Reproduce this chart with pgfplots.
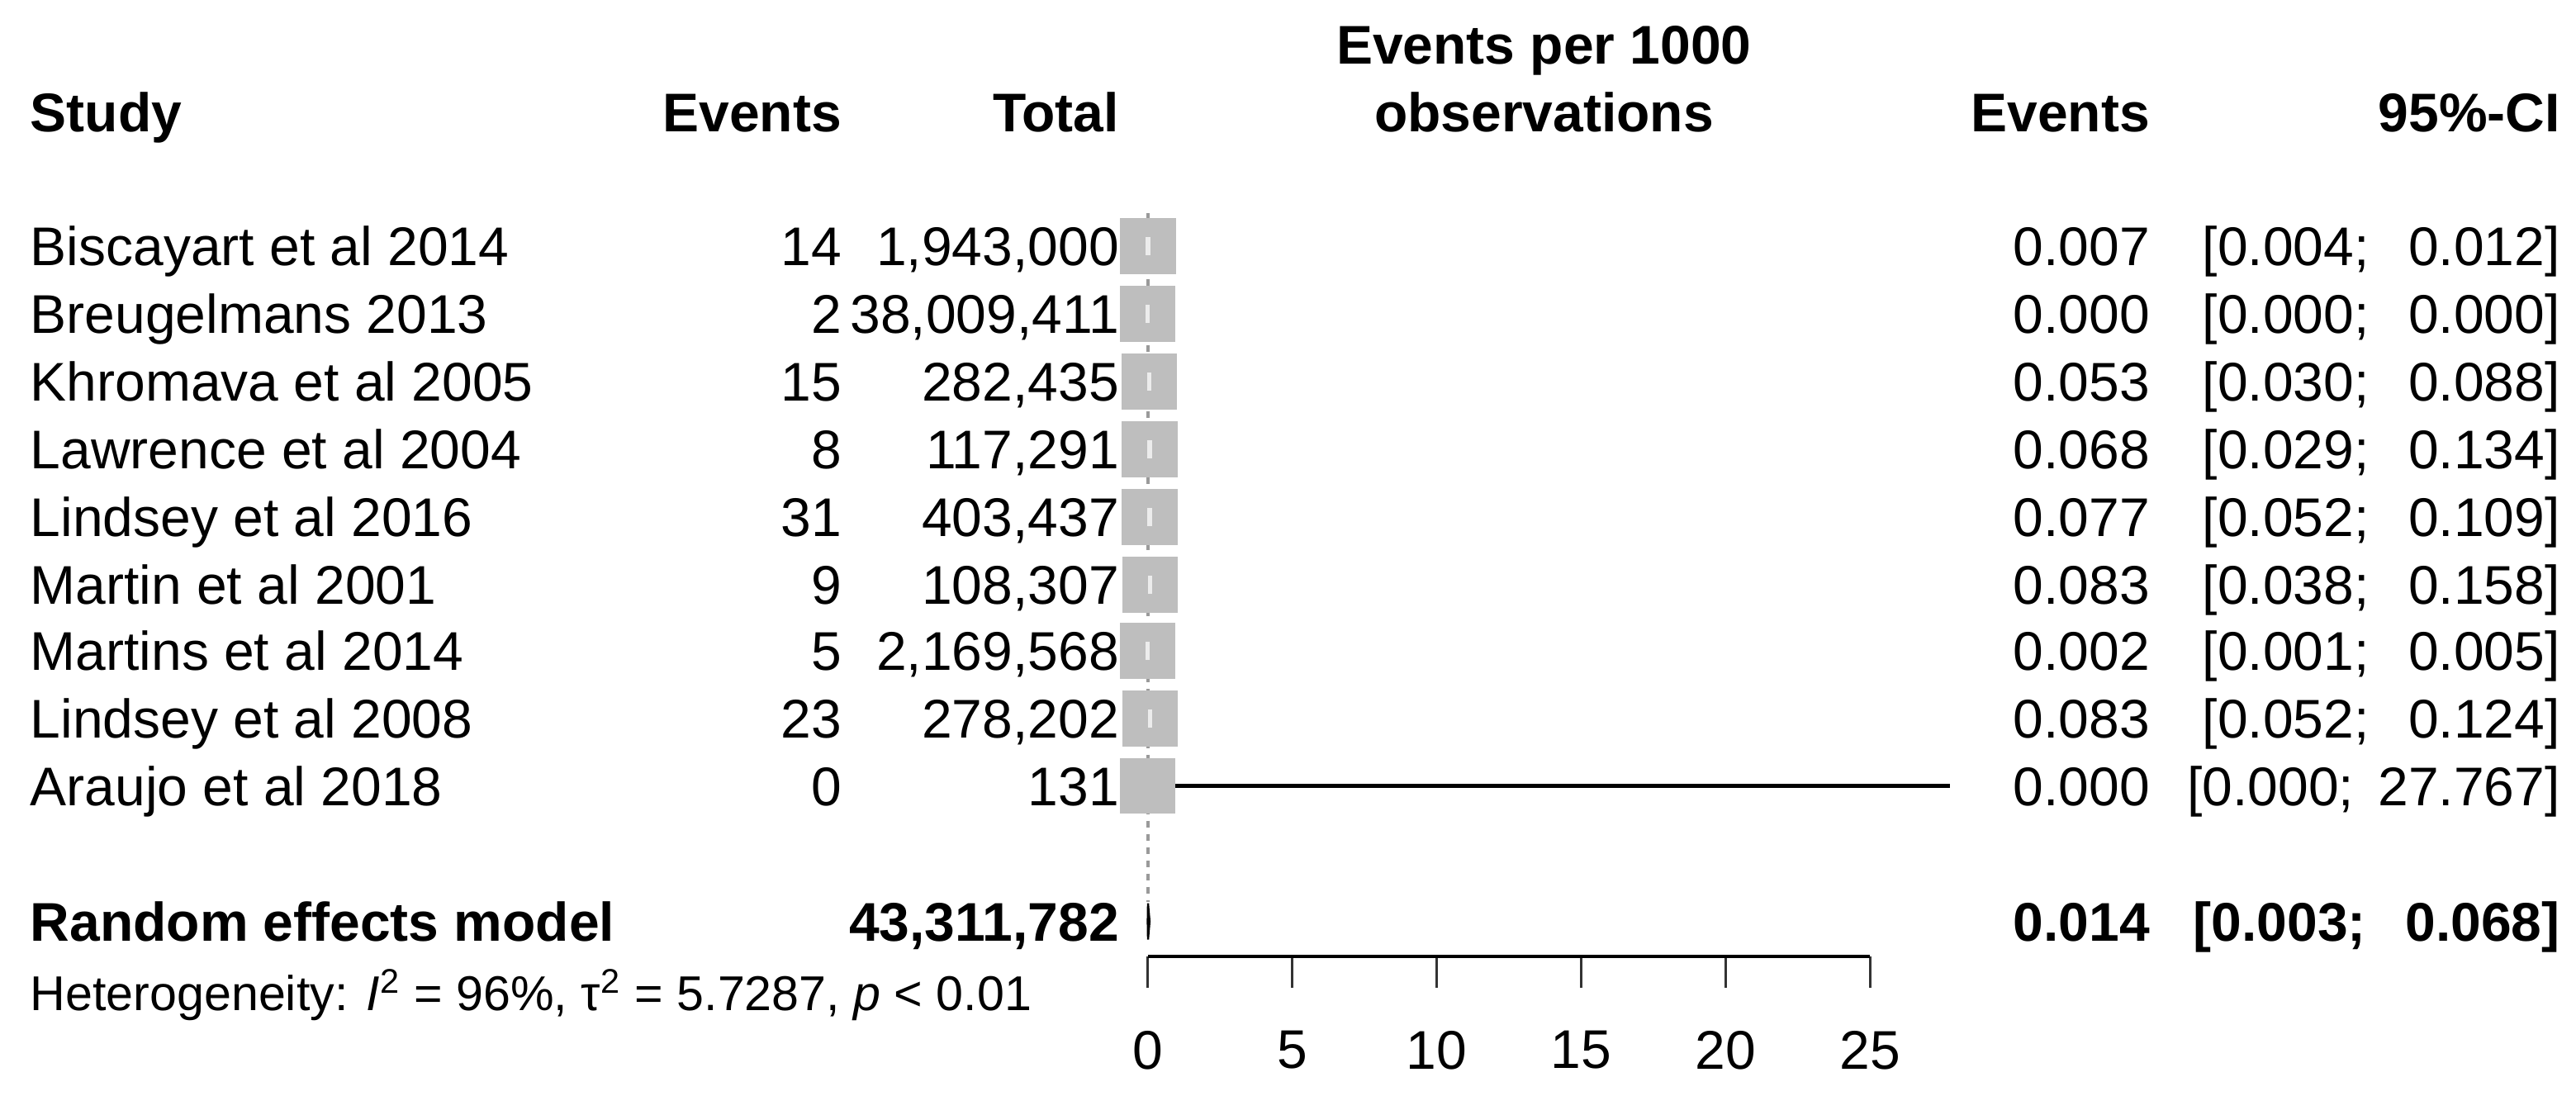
\documentclass[border=0pt]{standalone}
\usepackage{fontspec}
\setmainfont{Liberation Sans}
\usepackage{pgfplots}
\usepackage{pgfplotstable}
\pgfplotsset{compat=1.18}
\definecolor{sqgray}{HTML}{BEBEBE}
\definecolor{refgray}{HTML}{9A9A9A}
\newcommand\body{\fontsize{16.5}{19}\selectfont}
\newcommand\het{\fontsize{14.8}{18}\selectfont}

% y = row position (pixels from the top of the figure)
\pgfplotstableread{
y   est   lo    hi
149 0.007 0.004 0.012
190 0.000 0.000 0.000
231 0.053 0.030 0.088
272 0.068 0.029 0.134
313 0.077 0.052 0.109
354 0.083 0.038 0.158
394 0.002 0.001 0.005
435 0.083 0.052 0.124
476 0.000 0.000 27.767
}\studies

% one study row: baseline, name, events, total, estimate, CI
\newcommand\frow[6]{%
  \node[txt, anchor=base west] at (axis cs:-38.686,-#1) {#2};
  \node[txt, anchor=base east] at (axis cs:-10.571,-#1) {#3};
  \node[txt, anchor=base east] at (axis cs:-0.971,-#1) {#4};
  \node[txt, anchor=base east] at (axis cs:34.7,-#1) {#5};
  \node[txt, anchor=base east] at (axis cs:48.9,-#1) {#6};}

\tikzset{txt/.style={inner sep=0pt, font=\body}}

\begin{document}
\begin{tikzpicture}
\useasboundingbox (-347.5pt,-48pt) rectangle (432.5pt,289.5pt);
\begin{axis}[
  scale only axis, width=218.75pt, height=289.5pt,
  xmin=0, xmax=25, ymin=-579, ymax=0,
  axis x line=bottom, axis y line=none,
  ytick=\empty,
  clip=false,
  xtick={0,5,...,25},
  tick align=outside,
  major tick length=9.5pt,
  x axis line style={-, line width=1pt},
  every tick/.style={black!80, line width=0.8pt},
  xticklabel style={font=\body, inner sep=0pt, yshift=-13pt},
  /pgf/number format/assume math mode=true,
]
  % pooled estimate reference line
  \addplot[refgray, line width=1pt, dash pattern=on 2pt off 2pt] coordinates {(0.014,-129) (0.014,-546)};
  % study squares
  \addplot[only marks, mark=square*, mark size=8.25pt, mark options={fill=sqgray, draw=sqgray}]
    table[x=est, y expr=-\thisrow{y}] {\studies};
  % short CIs inside the squares
  \addplot[only marks, mark=|, mark size=2.75pt, mark options={draw=white!85!gray, line width=1.4pt},
    skip coords between index={8}{9}]
    table[x=est, y expr=-\thisrow{y}] {\studies};
  % wide CI of Araujo et al 2018
  \addplot[black, line width=1.1pt] coordinates {(0,-476) (27.767,-476)};
  % random effects diamond
  \addplot[fill=sqgray, draw=black, line width=0.6pt] coordinates {(0.003,-558) (0.014,-547) (0.068,-558) (0.014,-569)} -- cycle;

  % header
  \node[txt, font=\body\bfseries, anchor=base west] at (axis cs:-38.686,-80) {Study};
  \node[txt, font=\body\bfseries, anchor=base east] at (axis cs:-10.571,-80) {Events};
  \node[txt, font=\body\bfseries, anchor=base east] at (axis cs:-0.971,-80) {Total};
  \node[txt, font=\body\bfseries, anchor=base] at (axis cs:13.714,-39) {Events per 1000};
  \node[txt, font=\body\bfseries, anchor=base] at (axis cs:13.714,-80) {observations};
  \node[txt, font=\body\bfseries, anchor=base east] at (axis cs:34.7,-80) {Events};
  \node[txt, font=\body\bfseries, anchor=base east] at (axis cs:48.9,-80) {95\%-CI};

  \frow{161}{Biscayart et al 2014}{14}{1,943,000}{0.007}{[0.004;\ \ \,0.012]}
  \frow{202}{Breugelmans 2013}{2}{38,009,411}{0.000}{[0.000;\ \ \,0.000]}
  \frow{243}{Khromava et al 2005}{15}{282,435}{0.053}{[0.030;\ \ \,0.088]}
  \frow{284}{Lawrence et al 2004}{8}{117,291}{0.068}{[0.029;\ \ \,0.134]}
  \frow{325}{Lindsey et al 2016}{31}{403,437}{0.077}{[0.052;\ \ \,0.109]}
  \frow{366}{Martin et al 2001}{9}{108,307}{0.083}{[0.038;\ \ \,0.158]}
  \frow{406}{Martins et al 2014}{5}{2,169,568}{0.002}{[0.001;\ \ \,0.005]}
  \frow{447}{Lindsey et al 2008}{23}{278,202}{0.083}{[0.052;\ \ \,0.124]}
  \frow{488}{Araujo et al 2018}{0}{131}{0.000}{[0.000;\ \,27.767]}

  % pooled row
  \node[txt, font=\body\bfseries, anchor=base west] at (axis cs:-38.686,-570) {Random effects model};
  \node[txt, font=\body\bfseries, anchor=base east] at (axis cs:-0.971,-570) {43,311,782};
  \node[txt, font=\body\bfseries, anchor=base east] at (axis cs:34.7,-570) {0.014};
  \node[txt, font=\body\bfseries, anchor=base east] at (axis cs:48.9,-570) {[0.003;\ \ \,0.068]};
  \node[txt, font=\het, anchor=base west] at (axis cs:-38.686,-612)
    {Heterogeneity: \textit{I}\textsuperscript{2} = 96\%, τ\textsuperscript{2} = 5.7287, \textit{p} < 0.01};
\end{axis}
\end{tikzpicture}
\end{document}
